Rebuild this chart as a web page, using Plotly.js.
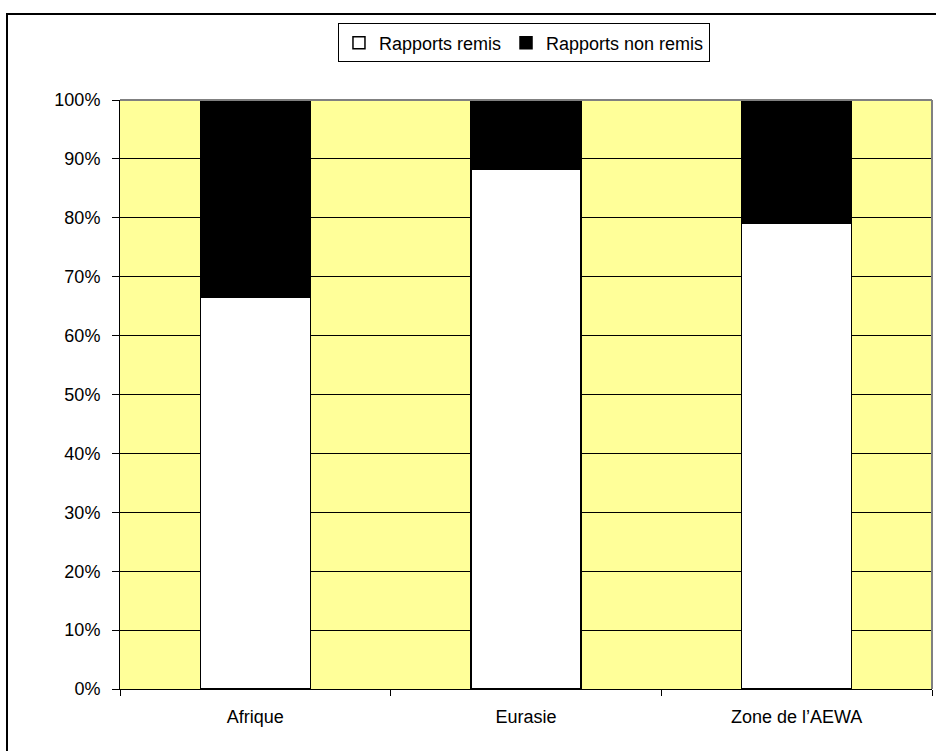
<!DOCTYPE html>
<html>
<head>
<meta charset="utf-8">
<script src="https://cdn.plot.ly/plotly-3.0.1.min.js"></script>
<style>
html,body{margin:0;padding:0;background:#fff;}
#wrap{position:relative;width:936px;height:751px;overflow:hidden;}
#chart{position:absolute;left:0;top:0;width:936px;height:751px;}
#frame{position:absolute;left:6px;top:13px;width:1000px;height:800px;border-left:2px solid #000;border-top:2px solid #000;pointer-events:none;}
</style>
</head>
<body>
<div id="wrap"><div id="chart"></div><div id="frame"></div></div>
<script>
const categories = ["Afrique", "Eurasie", "Zone de l\u2019AEWA"];
const remis = [66.5, 88.3, 79.1];
const nonRemis = remis.map(v => 100 - v);
const seriesNames = ["Rapports remis", "Rapports non remis"];
const yTickVals = [0,10,20,30,40,50,60,70,80,90,100];
const yTickText = yTickVals.map(v => v + "%");

const fam = "Liberation Sans, Arial, sans-serif";
const font = {family: fam, size: 18, color: "#000"};

const traces = [
  {type: "bar", name: seriesNames[0], x: categories, y: remis,
   marker: {color: "#FFFFFF", line: {color: "#000", width: 1.5}}, hoverinfo: "skip"},
  {type: "bar", name: seriesNames[1], x: categories, y: nonRemis,
   marker: {color: "#000000", line: {color: "#000", width: 1.5}}, hoverinfo: "skip"}
];

const layout = {
  width: 936, height: 751,
  margin: {l: 120, r: 4, t: 100, b: 62},
  paper_bgcolor: "rgba(0,0,0,0)",
  plot_bgcolor: "#FFFF99",
  barmode: "stack",
  bargap: 0.594,
  font: font,
  showlegend: true,
  legend: {
    orientation: "h", x: 0.4975, xanchor: "center", y: 1.13, yanchor: "top",
    bgcolor: "#FFFFFF", bordercolor: "#000", borderwidth: 1,
    font: {family: fam, size: 18, color: "#000"},
    traceorder: "normal", itemwidth: 30
  },
  xaxis: {
    type: "category", tickson: "boundaries", ticks: "outside", ticklen: 6, tickcolor: "#000",
    showline: true, linecolor: "#000", linewidth: 1, showgrid: false, zeroline: false,
    tickfont: {family: fam, size: 18, color: "#000"}, ticklabelstandoff: 11, fixedrange: true
  },
  yaxis: {
    range: [0, 100], tickvals: yTickVals, ticktext: yTickText,
    ticks: "outside", ticklen: 7, tickcolor: "#000",
    showline: true, linecolor: "#000", linewidth: 1,
    showgrid: true, gridcolor: "#000", gridwidth: 1, zeroline: false,
    tickfont: {family: fam, size: 18, color: "#000"}, ticklabelstandoff: 8, fixedrange: true
  },
  shapes: [
    {type: "line", xref: "paper", yref: "paper", x0: 0, x1: 1, y0: 1, y1: 1, line: {color: "#808080", width: 2}, layer: "above"},
    {type: "line", xref: "paper", yref: "paper", x0: 1, x1: 1, y0: 0, y1: 1, line: {color: "#808080", width: 2}, layer: "above"}
  ]
};

Plotly.newPlot("chart", traces, layout, {displayModeBar: false, staticPlot: true});
</script>
</body>
</html>
